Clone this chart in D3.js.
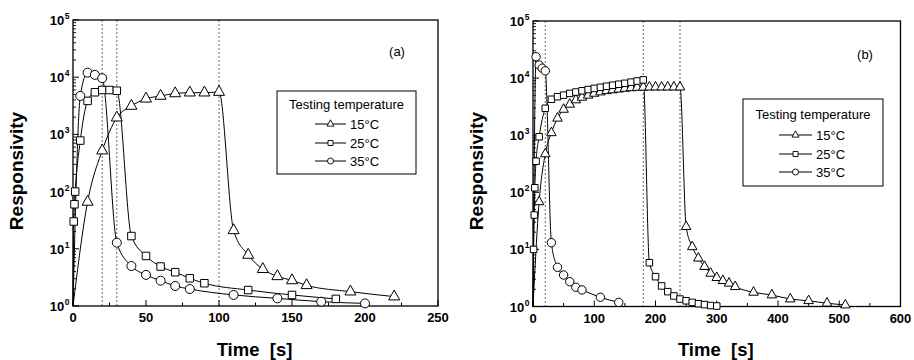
<!DOCTYPE html>
<html><head><meta charset="utf-8">
<script src="https://cdn.jsdelivr.net/npm/d3@7"></script>
<style>
body{margin:0;background:#fff}
svg{display:block}
text{font-family:"Liberation Sans",Arial,Helvetica,sans-serif;fill:#000}
</style>
</head><body>
<svg id="chart" width="914" height="360"></svg>
<script>
// ---------- data ----------
const seriesNames = ["15°C", "25°C", "35°C"];
const legendTitle = "Testing temperature";
const panelLabels = ["(a)", "(b)"];
const xTicksA = [0, 50, 100, 150, 200, 250];
const xTicksB = [0, 100, 200, 300, 400, 500, 600];
const yExponents = [0, 1, 2, 3, 4, 5];
const switchTimesA = [20, 30, 100];
const switchTimesB = [20, 180, 240];

// panel (a): [time s, responsivity]
const a15 = [[0,1],[10,66],[20,520],[30,1960],[40,3140],[50,4200],[60,4700],[70,5200],[80,5360],[90,5360],[100,5500],
             [110,21],[120,7.8],[130,4.4],[140,3.3],[150,2.8],[160,2.3],[190,1.78],[220,1.46]];
const a25 = [[0,1],[0.5,30],[1,60],[1.5,100],[5,780],[10,3850],[15,5450],[20,5970],[25,5970],[30,5800],
             [40,16.7],[50,7.5],[60,4.9],[70,3.9],[80,3.05],[90,2.5],[120,1.9],[150,1.56],[180,1.33]];
const a35 = [[0,1],[5,4700],[10,12000],[15,11000],[20,9600],
             [30,12.8],[40,5.0],[50,3.5],[60,2.77],[70,2.24],[80,1.98],[110,1.56],[140,1.36],[170,1.19],[200,1.11]];

// panel (b)
const b15 = [[0,1],[10,68],[20,470],[30,1100],[40,1980],[50,2830],[60,3470],[70,4140],[80,4600],[90,5000],[100,5400],
             [110,5700],[120,6000],[130,6200],[140,6400],[150,6600],[160,6750],[170,6850],[180,6900],[190,6950],
             [200,6950],[210,6950],[220,6950],[230,6950],[240,6950],
             [250,25],[260,11.1],[270,7.0],[280,5.0],[290,3.8],[300,3.2],[310,2.83],[320,2.55],[330,2.22],
             [360,1.77],[390,1.59],[420,1.35],[450,1.26],[480,1.14],[510,1.06]];
const b25 = [[0,1],[1,10],[2,40],[3,120],[5,350],[10,940],[20,2960],[30,4260],[40,4720],[50,5030],[60,5400],[70,5700],
             [80,6000],[90,6300],[100,6600],[110,6900],[120,7200],[130,7500],[140,7800],[150,8100],[160,8500],
             [170,8900],[180,9300],
             [190,5.85],[200,3.33],[210,2.29],[220,1.82],[230,1.53],[240,1.35],[250,1.26],[260,1.18],[270,1.12],
             [280,1.08],[290,1.04],[300,1.02]];
const b35 = [[0,1],[5,23700],[10,16900],[15,14900],[20,13400],
             [30,13.1],[40,4.86],[50,3.56],[60,2.72],[70,2.17],[80,1.95],[110,1.45],[140,1.18]];

// ---------- drawing ----------
const svg = d3.select("#chart");
const shapes = ["triangle", "square", "circle"];

function markerPath(shape, s) {
  if (shape === "triangle") {
    const w = s.tri, h = w * 0.9;
    return `M0,${-2*h/3}L${w/2},${h/3}L${-w/2},${h/3}Z`;
  }
  if (shape === "square") {
    const a = s.sq / 2;
    return `M${-a},${-a}H${a}V${a}H${-a}Z`;
  }
  const r = s.r;
  return `M${r},0A${r},${r} 0 1,1 ${-r},0A${r},${r} 0 1,1 ${r},0Z`;
}

function drawPanel(cfg) {
  const g = svg.append("g");
  const x = d3.scaleLinear().domain(cfg.xDomain).range([cfg.x0, cfg.x1]);
  const y = d3.scaleLog().domain([1, 1e5]).range([cfg.y1, cfg.y0]);

  // switch (dotted) lines
  g.selectAll("line.sw").data(cfg.switchTimes).join("line")
    .attr("x1", d => x(d)).attr("x2", d => x(d))
    .attr("y1", cfg.y0).attr("y2", cfg.y1)
    .attr("stroke", "#444").attr("stroke-width", 0.8).attr("stroke-dasharray", "2,2");

  // frame
  g.append("rect").attr("x", cfg.x0).attr("y", cfg.y0)
    .attr("width", cfg.x1 - cfg.x0).attr("height", cfg.y1 - cfg.y0)
    .attr("fill", "none").attr("stroke", "#000").attr("stroke-width", 1.3);

  // x ticks
  const xMinor = d3.range(cfg.xDomain[0], cfg.xDomain[1] + 1e-9, cfg.xMinorStep);
  g.selectAll("line.xt").data(xMinor).join("line")
    .attr("x1", d => x(d)).attr("x2", d => x(d))
    .attr("y1", cfg.y1).attr("y2", d => cfg.y1 - (cfg.xTicks.includes(d) ? 6 : 3.5))
    .attr("stroke", "#000").attr("stroke-width", 1);
  g.selectAll("text.xl").data(cfg.xTicks).join("text")
    .attr("x", d => x(d)).attr("y", cfg.y1 + 16)
    .attr("text-anchor", "middle").attr("font-size", 13).attr("font-weight", "bold")
    .text(d => d);

  // y ticks
  const yMinor = [];
  yExponents.slice(0, -1).forEach(e => { for (let m = 2; m <= 9; m++) yMinor.push(m * Math.pow(10, e)); });
  g.selectAll("line.ym").data(yMinor).join("line")
    .attr("x1", cfg.x0).attr("x2", cfg.x0 + 3)
    .attr("y1", d => y(d)).attr("y2", d => y(d))
    .attr("stroke", "#000").attr("stroke-width", 0.9);
  g.selectAll("line.yM").data(yExponents).join("line")
    .attr("x1", cfg.x0).attr("x2", cfg.x0 + 6)
    .attr("y1", d => y(Math.pow(10, d))).attr("y2", d => y(Math.pow(10, d)))
    .attr("stroke", "#000").attr("stroke-width", 1);
  const yl = g.selectAll("text.yl").data(yExponents).join("text")
    .attr("x", cfg.x0 - 8.5).attr("y", d => y(Math.pow(10, d)) + 5)
    .attr("text-anchor", "end").attr("font-size", 13).attr("font-weight", "bold");
  yl.append("tspan").text("10");
  yl.append("tspan").attr("font-size", 8.5).attr("dy", -6).attr("dx", 0.5).text(d => d);
  // keep superscript attached right of "10": anchor end moves whole thing; shift back
  yl.attr("transform", "translate(5,0)");

  // axis titles
  g.append("text").attr("x", (cfg.x0 + cfg.x1) / 2 - 1).attr("y", 356)
    .attr("text-anchor", "middle").attr("font-size", 18.5).attr("font-weight", "bold")
    .style("white-space", "pre").text("Time  [s]");
  g.append("text")
    .attr("transform", `translate(${cfg.ylabX},171) rotate(-90)`)
    .attr("text-anchor", "middle").attr("font-size", 19).attr("font-weight", "bold")
    .text("Responsivity");

  // panel label
  g.append("text").attr("x", cfg.labX).attr("y", cfg.labY)
    .attr("text-anchor", "middle").attr("font-size", 13).text(cfg.label);

  // curves + markers
  const line = d3.line().x(d => x(d[0])).y(d => y(d[1])).curve(d3.curveMonotoneX);
  cfg.series.forEach((data, i) => {
    g.append("path").attr("d", line(data))
      .attr("fill", "none").attr("stroke", "#000").attr("stroke-width", 1);
  });
  cfg.series.forEach((data, i) => {
    g.selectAll(null).data(data.filter(d => d[0] > 0)).join("path")
      .attr("transform", d => `translate(${x(d[0])},${y(d[1])})`)
      .attr("d", markerPath(shapes[i], cfg.msize))
      .attr("fill", "#fff").attr("stroke", "#000").attr("stroke-width", 1);
  });

  // legend
  const L = cfg.legend;
  g.append("rect").attr("x", L.x0).attr("y", L.y0).attr("width", L.x1 - L.x0).attr("height", L.y1 - L.y0)
    .attr("fill", "#fff").attr("stroke", "#000").attr("stroke-width", 1);
  g.append("text").attr("x", (L.x0 + L.x1) / 2).attr("y", L.titleY)
    .attr("text-anchor", "middle").attr("font-size", 13).text(legendTitle);
  seriesNames.forEach((name, i) => {
    const cy = L.rowY[i];
    g.append("line").attr("x1", L.lx0).attr("x2", L.lx1).attr("y1", cy).attr("y2", cy)
      .attr("stroke", "#000").attr("stroke-width", 1);
    g.append("path").attr("transform", `translate(${(L.lx0 + L.lx1) / 2},${cy})`)
      .attr("d", markerPath(shapes[i], {tri: 7, sq: 5, r: 3}))
      .attr("fill", "#fff").attr("stroke", "#000").attr("stroke-width", 0.9);
    g.append("text").attr("x", L.lx1 + 4).attr("y", cy + 5)
      .attr("font-size", 13).text(name);
  });
}

drawPanel({
  x0: 73, x1: 438, y0: 20, y1: 306, xDomain: [0, 250], xTicks: xTicksA, xMinorStep: 25,
  switchTimes: switchTimesA, series: [a15, a25, a35], msize: {tri: 11, sq: 7.5, r: 4.5},
  ylabX: 23, label: panelLabels[0], labX: 397, labY: 56,
  legend: {x0: 277, x1: 416, y0: 91, y1: 174, titleY: 109, rowY: [124, 143, 161], lx0: 315, lx1: 346}
});
drawPanel({
  x0: 533, x1: 900.5, y0: 21, y1: 306.5, xDomain: [0, 600], xTicks: xTicksB, xMinorStep: 50,
  switchTimes: switchTimesB, series: [b15, b25, b35], msize: {tri: 9.5, sq: 6.5, r: 4.2},
  ylabX: 483, label: panelLabels[1], labX: 865, labY: 59,
  legend: {x0: 743, x1: 883, y0: 99, y1: 186, titleY: 119, rowY: [135, 154, 172], lx0: 779, lx1: 812}
});
</script>
</body></html>
